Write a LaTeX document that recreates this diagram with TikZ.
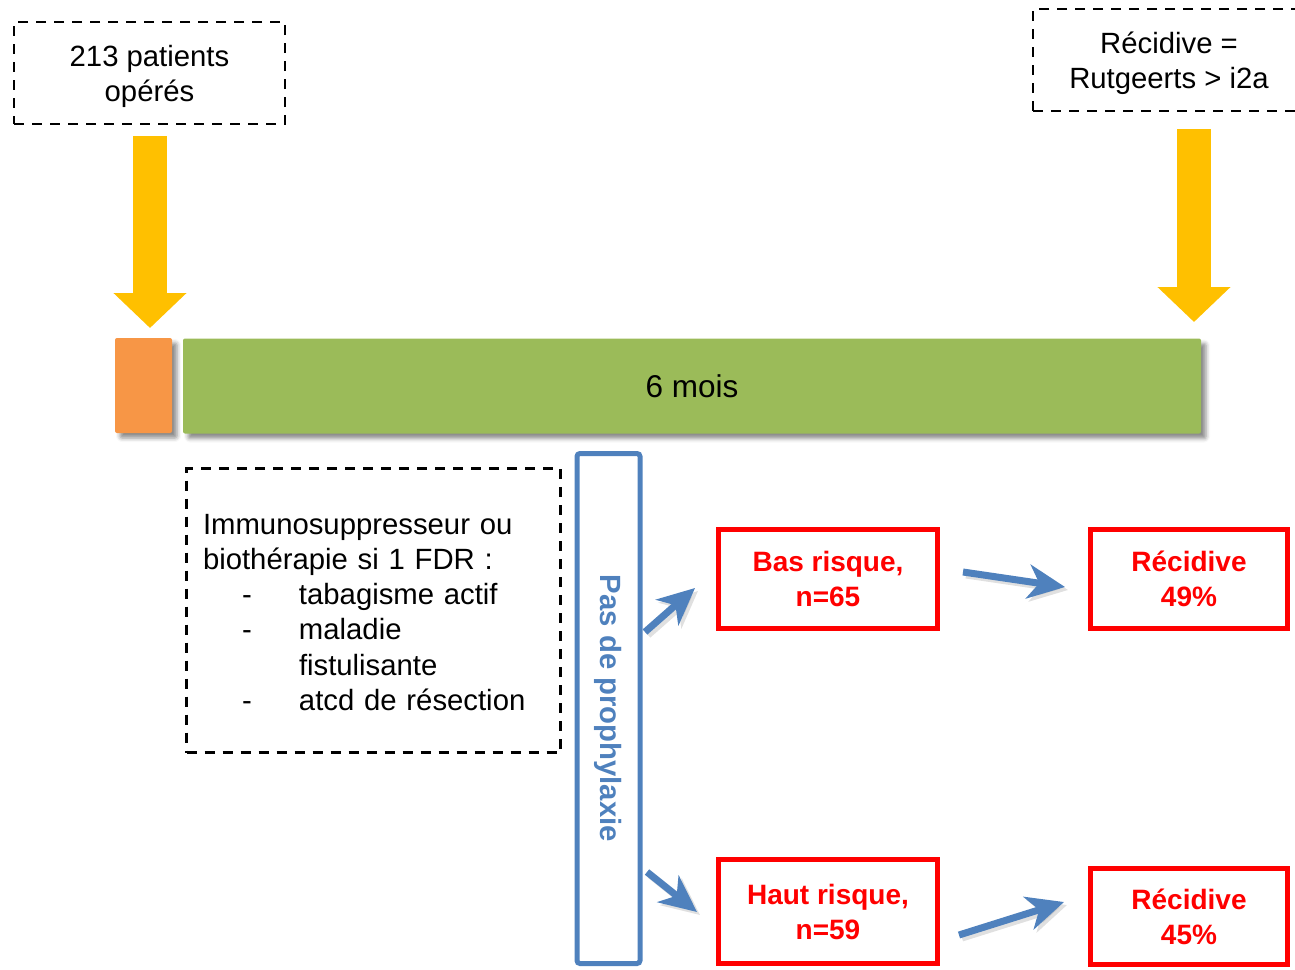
\documentclass[tikz,border=0pt]{standalone}
\usepackage{fontspec}
\setmainfont{Liberation Sans}
\usetikzlibrary{arrows.meta,shadows.blur}
\definecolor{cyellow}{HTML}{FFC000}
\definecolor{corange}{HTML}{F79646}
\definecolor{cgreen}{HTML}{9BBB59}
\definecolor{cblue}{HTML}{4F81BD}
\definecolor{cred}{HTML}{FF0000}
\tikzset{
  txt/.style={font=\fontsize{29.3}{35.2}\selectfont},
  dbox/.style={draw=black, line width=2.6pt, dash pattern=on 10pt off 8pt, txt, align=center, inner sep=0pt},
  redbox/.style={draw=cred, line width=5pt, text=cred, font=\fontsize{28}{35}\selectfont\bfseries, align=center, inner sep=0pt},
  bar/.style={inner sep=0pt, rounded corners=2pt, blur shadow={shadow xshift=5pt, shadow yshift=-5pt, shadow blur radius=4pt, shadow opacity=45}},
  yarrow/.style={draw=cyellow, line width=34pt, -{Triangle[length=35pt,width=71pt]}},
  barrow/.style={draw=cblue, line width=7pt, -{Stealth[length=37pt,width=34pt,inset=11pt]}},
}
\begin{document}
\begin{tikzpicture}[x=1pt,y=-1pt]
\useasboundingbox (0,0) rectangle (1295,969);
% top boxes
\node[dbox, minimum width=271pt, minimum height=102pt] (pat) at (149.5,73) {\rule{0pt}{28pt}213 patients\\opérés};
\node[dbox, minimum width=272pt, minimum height=102pt] (def) at (1169,60) {\rule{0pt}{28pt}Récidive =\\Rutgeerts > i2a};
% bars
\node[bar, fill=corange, minimum width=57pt, minimum height=95pt] (op) at (143.5,385.5) {};
\node[bar, fill=cgreen, minimum width=1018pt, minimum height=95pt, font=\fontsize{31.5}{36}\selectfont] (mois) at (692,386) {6 mois};
% yellow arrows
\coordinate (ya1s) at (150,136);
\coordinate (ya1e) at (150,328);
\coordinate (ya2s) at (1194,129);
\coordinate (ya2e) at (1194,322);
\draw[yarrow] (ya1s) -- (ya1e);
\draw[yarrow] (ya2s) -- (ya2e);
% FDR box
\node[dbox, minimum width=374pt, minimum height=284pt, text width=341pt, align=left, inner xsep=16.5pt] (fdr) at (373.5,610.5)
{\rule{0pt}{24pt}Immunosuppresseur ou\\biothérapie si 1 FDR :\\
\hspace*{39pt}\makebox[57pt][l]{-}tabagisme actif\\
\hspace*{39pt}\makebox[57pt][l]{-}maladie\\
\hspace*{96pt}fistulisante\\
\hspace*{39pt}\makebox[57pt][l]{-}atcd de résection};
% blue vertical box
\node[draw=cblue, line width=5pt, rounded corners=3pt, rotate=-90, minimum width=510pt, minimum height=63pt, inner sep=0pt, text=cblue, font=\fontsize{29.3}{35}\selectfont\bfseries] (proph) at (608.5,708.5) {Pas de prophylaxie};
% red boxes
\node[redbox, minimum width=219pt, minimum height=99pt] (bas) at (828,579) {Bas risque,\\n=65};
\node[redbox, minimum width=219pt, minimum height=104pt] (haut) at (828,911.5) {Haut risque,\\n=59};
\node[redbox, minimum width=197pt, minimum height=99pt] (rec1) at (1189,579) {Récidive\\49\%};
\node[redbox, minimum width=197pt, minimum height=96pt] (rec2) at (1189,916.5) {Récidive\\45\%};
% blue arrows
\coordinate (b1s) at (645,632);
\coordinate (b1e) at (695,588);
\coordinate (b2s) at (647,872);
\coordinate (b2e) at (697,912);
\coordinate (b3s) at (963,572);
\coordinate (b3e) at (1065,587);
\coordinate (b4s) at (959,935);
\coordinate (b4e) at (1064,902);
\foreach \a in {1,2,3,4}{
  \draw[barrow, draw=black!35, opacity=0.35, transform canvas={xshift=3pt,yshift=-3pt}] (b\a s) -- (b\a e);
  \draw[barrow] (b\a s) -- (b\a e);
}
\end{tikzpicture}
\end{document}
